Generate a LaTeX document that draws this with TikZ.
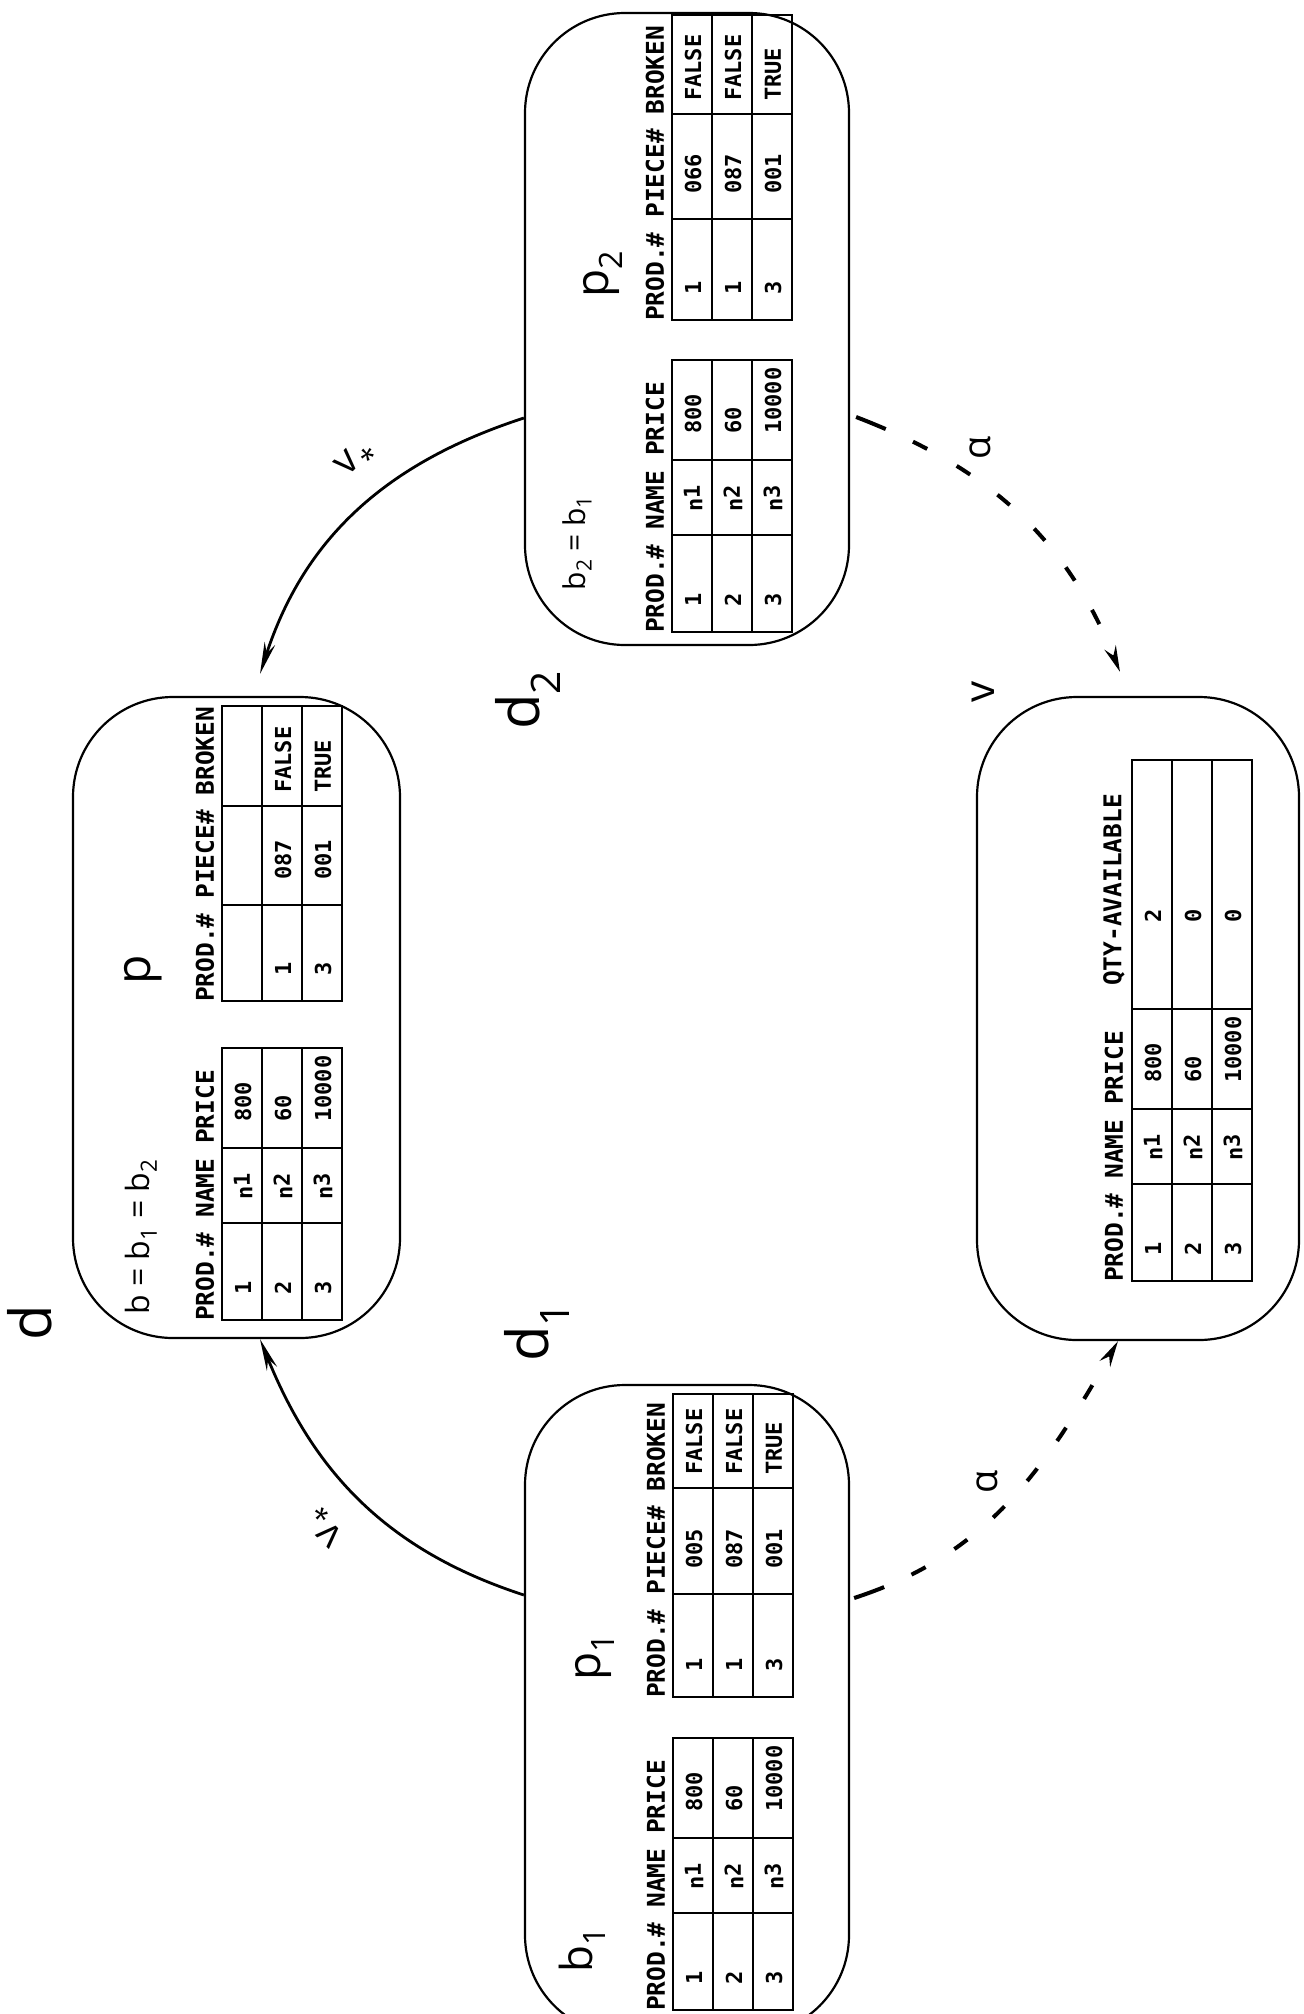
\documentclass[tikz,border=0pt]{standalone}
\usepackage{fontspec}
\newfontfamily\plotfont{DejaVu Sans Mono}
\newfontfamily\handfont{Open Sans}
\usetikzlibrary{arrows.meta}
\newcommand\tgrid[4]{%
  \draw[tline] (#1,#2) rectangle ({#1+120},#3);
  \draw[tline] ({#1+40},#2) -- ({#1+40},#3) ({#1+80},#2) -- ({#1+80},#3);
  \foreach \yy in {#4} {\draw[tline] (#1,\yy) -- ({#1+120},\yy);}
}
\newcommand\nn[1]{n\raisebox{2.5pt}{#1}}
\begin{document}
\begin{tikzpicture}[x=1pt,y=-1pt,
 box/.style={draw,line width=2.2pt,rounded corners=100pt,inner sep=0pt},
 tline/.style={line width=2.6pt},
 hdr/.style={font=\plotfont\bfseries\fontsize{24.5}{24.5}\selectfont,rotate=90,anchor=west,inner sep=0pt},
 cell/.style={font=\plotfont\bfseries\fontsize{22}{22}\selectfont,rotate=90,anchor=west,inner sep=0pt},
 hand/.style={rotate=90,inner sep=0pt,font=\handfont},
 solidarc/.style={line width=2.8pt,-{Stealth[length=32pt,width=11pt]}},
 dasharc/.style={line width=4pt,dash pattern=on 32pt off 30pt on 16pt off 34pt on 16pt off 34pt on 16pt off 34pt on 16pt off 34pt on 16pt off 34pt on 16pt off 34pt on 16pt off 34pt on 16pt off 34pt,-{Stealth[length=26pt,width=12pt]}}]
\useasboundingbox (0,0) rectangle (1304,2014);
\clip (0,0) rectangle (1304,2014);

% boxes
\node[box,minimum width=324pt,minimum height=632pt] (b2) at (687,329) {};
\node[box,minimum width=327pt,minimum height=641pt] (d) at (236.5,1017.5) {};
\node[box,minimum width=324pt,minimum height=650pt] (b1) at (687,1710) {};
\node[box,minimum width=322pt,minimum height=643pt] (v) at (1138,1018.5) {};

% ---- box b2 ----
\tgrid{672}{320}{15}{219,114}
\node[hdr] (b2h2) at (655,321) {PROD.\# PIECE\# BROKEN};
\foreach \r/\a/\b/\c in {1/1/066/FALSE,2/1/087/FALSE,3/3/001/TRUE}{
  \node[cell] (b2q\r-a) at ({653+40*\r},295) {\a};
  \node[cell] (b2q\r-b) at ({653+40*\r},194) {\b};
  \node[cell] (b2q\r-c) at ({653+40*\r},101) {\c};
}
\tgrid{672}{632}{360}{535,460}
\node[hdr] (b2h1) at (655,633) {PROD.\# NAME PRICE};
\foreach \r/\a/\b/\c in {1/1/1/800,2/2/2/60,3/3/3/10000}{
  \node[cell] (b2p\r-a) at ({653+40*\r},607) {\a};
  \node[cell] (b2p\r-b) at ({653+40*\r},512) {\nn{\b}};
  \node[cell] (b2p\r-c) at ({653+40*\r},434) {\c};
}
\node[hand,font=\handfont\fontsize{30}{30}\selectfont] (b21l) at (577,543) {b\textsubscript{2} = b\textsubscript{1}};
\node[hand,font=\handfont\fontsize{46}{46}\selectfont] (p2l) at (603,274) {p\textsubscript{2}};

% ---- box d ----
\tgrid{222}{1001}{706}{905,806}
\node[hdr] (dh2) at (205,1002) {PROD.\# PIECE\# BROKEN};
\foreach \r/\a/\b/\c in {2/1/087/FALSE,3/3/001/TRUE}{
  \node[cell] (dq\r-a) at ({203+40*\r},976) {\a};
  \node[cell] (dq\r-b) at ({203+40*\r},880) {\b};
  \node[cell] (dq\r-c) at ({203+40*\r},793) {\c};
}
\tgrid{222}{1320}{1048}{1223,1148}
\node[hdr] (dh1) at (205,1321) {PROD.\# NAME PRICE};
\foreach \r/\a/\b/\c in {1/1/1/800,2/2/2/60,3/3/3/10000}{
  \node[cell] (dp\r-a) at ({203+40*\r},1295) {\a};
  \node[cell] (dp\r-b) at ({203+40*\r},1200) {\nn{\b}};
  \node[cell] (dp\r-c) at ({203+40*\r},1122) {\c};
}
\node[hand,font=\handfont\fontsize{32}{32}\selectfont] (bl) at (141,1237) {b = b\textsubscript{1} = b\textsubscript{2}};
\node[hand,font=\handfont\fontsize{48}{48}\selectfont] (pl) at (143,970) {p};

% ---- box b1 ----
\tgrid{673}{1697}{1394}{1594,1488}
\node[hdr] (b1h2) at (656,1698) {PROD.\# PIECE\# BROKEN};
\foreach \r/\a/\b/\c in {1/1/005/FALSE,2/1/087/FALSE,3/3/001/TRUE}{
  \node[cell] (b1q\r-a) at ({654+40*\r},1672) {\a};
  \node[cell] (b1q\r-b) at ({654+40*\r},1569) {\b};
  \node[cell] (b1q\r-c) at ({654+40*\r},1475) {\c};
}
\tgrid{673}{2010}{1738}{1913,1838}
\node[hdr] (b1h1) at (656,2011) {PROD.\# NAME PRICE};
\foreach \r/\a/\b/\c in {1/1/1/800,2/2/2/60,3/3/3/10000}{
  \node[cell] (b1p\r-a) at ({654+40*\r},1985) {\a};
  \node[cell] (b1p\r-b) at ({654+40*\r},1890) {\nn{\b}};
  \node[cell] (b1p\r-c) at ({654+40*\r},1812) {\c};
}
\node[hand,font=\handfont\fontsize{44}{44}\selectfont] (b1l) at (582,1950) {b\textsubscript{1}};
\node[hand,font=\handfont\fontsize{46}{46}\selectfont] (p1l) at (595,1657) {p\textsubscript{1}};

% ---- box v ----
\draw[tline] (1132,1281) rectangle (1252,760);
\draw[tline] (1172,1281) -- (1172,760) (1212,1281) -- (1212,760);
\foreach \yy in {1184,1109,1009} {\draw[tline] (1132,\yy) -- (1252,\yy);}
\node[hdr] (vh1) at (1114,1282) {PROD.\# NAME PRICE};
\node[hdr] (vh2) at (1114,986) {QTY-AVAILABLE};
\foreach \r/\a/\b/\c/\q in {1/1/1/800/2,2/2/2/60/0,3/3/3/10000/0}{
  \node[cell] (vp\r-a) at ({1113+40*\r},1256) {\a};
  \node[cell] (vp\r-b) at ({1113+40*\r},1161) {\nn{\b}};
  \node[cell] (vp\r-c) at ({1113+40*\r},1083) {\c};
  \node[cell] (vp\r-d) at ({1113+40*\r},923) {\q};
}

% ---- labels ----
\node[hand,font=\handfont\fontsize{58}{58}\selectfont] (dl) at (30,1323) {d};
\node[hand,font=\handfont\fontsize{58}{58}\selectfont] (d1l) at (537,1332) {d\textsubscript{1}};
\node[hand,font=\handfont\fontsize{58}{58}\selectfont] (d2l) at (528,700) {d\textsubscript{2}};
\node[hand,font=\handfont\fontsize{42}{42}\selectfont] (vl) at (983,692) {v};
\node[hand,font=\handfont\fontsize{38}{38}\selectfont] (al1) at (980,448) {α};
\node[hand,font=\handfont\fontsize{38}{38}\selectfont] (al2) at (987,1482) {α};
\node[rotate=45,inner sep=0pt,font=\handfont\fontsize{40}{40}\selectfont] (vs1l) at (358,461) {v\kern3pt\textsubscript{*}};
\node[rotate=135,inner sep=0pt,font=\handfont\fontsize{40}{40}\selectfont] (vs2l) at (328,1524) {v\kern3pt\textsubscript{*}};

% ---- connectors ----
\coordinate (c1s) at ([yshift=-89pt]b2.west);
\coordinate (c1e) at ([xshift=23.5pt,yshift=22pt]d.north);
\draw[solidarc] (c1s) to[out=198,in=72] (c1e);
\coordinate (c2s) at ([yshift=115pt]b1.west);
\coordinate (c2e) at ([xshift=23.5pt]d.south);
\draw[solidarc] (c2s) to[out=162,in=292] (c2e);
\coordinate (c3s) at ([xshift=6pt,yshift=-88pt]b2.east);
\coordinate (c3e) at ([xshift=-18pt,yshift=24pt]v.north);
\draw[dasharc] (c3s) to[out=339,in=112] (c3e);
\coordinate (c4s) at ([xshift=4pt,yshift=112pt]b1.east);
\coordinate (c4e) at ([xshift=-20pt]v.south);
\draw[dasharc] (c4s) to[out=18,in=240] (c4e);
\end{tikzpicture}
\end{document}
